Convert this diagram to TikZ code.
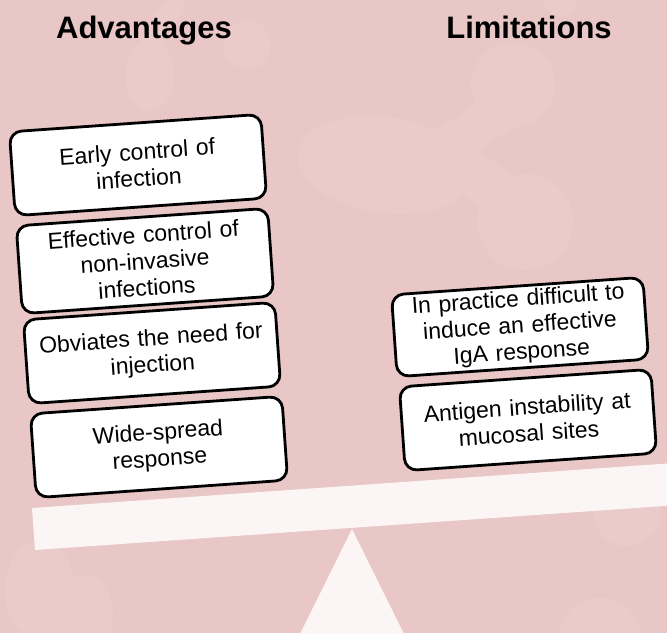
\documentclass[tikz,border=0pt]{standalone}
\usepackage{fontspec}
\setmainfont{Liberation Sans}
\definecolor{bgpink}{HTML}{E9C7C6}
\definecolor{beamwhite}{HTML}{FBF6F5}
\begin{document}
\begin{tikzpicture}[x=1pt,y=-1pt,
  card/.style={draw=black, line width=2.8pt, fill=white, rounded corners=12pt,
    rotate=4, minimum width=252pt, minimum height=84pt, text width=242pt,
    align=center, inner sep=2pt, font=\fontsize{23}{26.5}\selectfont},
  heading/.style={anchor=base, font=\fontsize{31}{34}\selectfont\bfseries},
  ghost/.style={fill=white}]
\useasboundingbox (0,0) rectangle (667,633);
\fill[bgpink] (0,0) rectangle (667,633);

% faint background molecules
\begin{scope}[transparency group, opacity=0.08]
  \fill[ghost] (513,85) circle (42);
  \draw[white, line width=40pt, line cap=round] (505,110) -- (440,150);
  \fill[ghost, rotate around={-8:(385,165)}] (385,165) ellipse (88 and 48);
  \draw[white, line width=45pt, line cap=round] (460,165) -- (515,205);
  \fill[ghost] (525,222) circle (48);
  \fill[ghost] (560,0) circle (16);
  \fill[ghost] (247,45) circle (24);
  \fill[ghost] (150,75) ellipse (24 and 36);
  \draw[white, line width=20pt, line cap=round] (150,40) -- (175,5);
  \fill[ghost] (40,590) ellipse (35 and 50);
  \fill[ghost] (85,615) ellipse (28 and 40);
  \fill[ghost] (627,512) circle (34);
  \fill[ghost] (600,640) circle (42);
\end{scope}

% headings
\node[heading] (adv) at (144,38) {Advantages};
\node[heading] (lim) at (529,38) {Limitations};

% beam and fulcrum
\fill[beamwhite] (32,508) -- (690,461.9) -- (690,504.2) -- (35,550) -- cycle;
\fill[beamwhite] (352,529) -- (297,640) -- (407,640) -- cycle;

% advantage cards
\node[card] (a1) at (138,165) {Early control of\\infection};
\node[card, minimum height=88pt] (a2) at (145,261) {Effective control of\\non-invasive\\infections};
\node[card] (a3) at (152,353) {Obviates the need for\\injection};
\node[card] (a4) at (159,447) {Wide-spread\\response};

% limitation cards
\node[card, minimum height=82pt] (l1) at (520,327) {In practice difficult to\\induce an effective\\IgA response};
\node[card] (l2) at (528,420) {Antigen instability at\\mucosal sites};
\end{tikzpicture}
\end{document}
